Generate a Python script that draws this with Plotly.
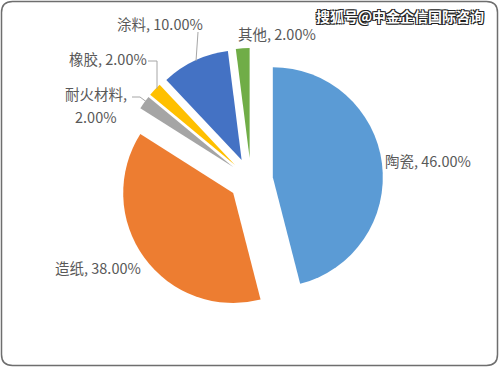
import plotly.graph_objects as go

categories = ["陶瓷", "造纸", "耐火材料", "橡胶", "涂料", "其他"]
values = [46.0, 38.0, 2.0, 2.0, 10.0, 2.0]
colors = ["#5B9BD5", "#ED7D31", "#A5A5A5", "#FFC000", "#4472C4", "#70AD47"]

W, H = 499, 367
cx, cy, R = 251, 180, 132  # outer pie box (pixels)

fig = go.Figure(go.Pie(
    labels=categories, values=values, sort=False, direction="clockwise", rotation=0,
    marker=dict(colors=colors, line=dict(width=0)),
    pull=[0.2] * len(values), textinfo="none", hoverinfo="label+percent",
    domain=dict(x=[(cx - R) / W, (cx + R) / W], y=[1 - (cy + R) / H, 1 - (cy - R) / H]),
    showlegend=False,
))

def px(x):
    return x / W

def py(y):
    return 1 - y / H

lab = {c: f"{c}, {v:.2f}%" for c, v in zip(categories, values)}
label_pos = {
    "陶瓷": (383, 160),
    "造纸": (53, 267),
    "橡胶": (67, 58),
    "涂料": (115, 24),
    "其他": (236, 33),
}
font = dict(family="Noto Sans CJK SC, Noto Sans, sans-serif", size=14.5, color="#595959")
anns = []
for c, (x, y) in label_pos.items():
    anns.append(dict(x=px(x), y=py(y), xref="paper", yref="paper", text=lab[c],
                     showarrow=False, xanchor="left", yanchor="middle", font=font))
# two-line label
c = "耐火材料"
t1, t2 = lab[c].split(" ")
anns.append(dict(x=px(96), y=py(105), xref="paper", yref="paper", text=t1, borderpad=0,
                 showarrow=False, xanchor="center", yanchor="bottom", font=font))
anns.append(dict(x=px(96), y=py(105), xref="paper", yref="paper", text=t2, borderpad=0,
                 showarrow=False, xanchor="center", yanchor="top", font=font))
# watermark
anns.append(dict(x=px(486), y=py(16), xref="paper", yref="paper", text="<b>搜狐号@中金企信国际咨询</b>",
                 showarrow=False, xanchor="right", yanchor="middle",
                 font=dict(family="Noto Sans CJK SC", size=14, color="white",
                           shadow="1px 1px 0 #222, -1px -1px 0 #222, 1px -1px 0 #222, -1px 1px 0 #222")))

def path(pts):
    return "M " + " L ".join(f"{px(x)},{py(y)}" for x, y in pts)

lc = dict(color="#A6A6A6", width=1)
shapes = [
    dict(type="path", xref="paper", yref="paper", path=path([(198, 32), (196, 61)]), line=lc),
    dict(type="path", xref="paper", yref="paper", path=path([(148, 61), (157, 61), (157, 89)]), line=lc),
    dict(type="path", xref="paper", yref="paper", path=path([(132, 97), (140, 97), (148, 103)]), line=lc),
]
# rounded border
r = 11
x0, y0, x1, y1 = 1.5, 1.5, 497.5, 365.5
border = (f"M {px(x0 + r)},{py(y0)} L {px(x1 - r)},{py(y0)} "
          f"Q {px(x1)},{py(y0)} {px(x1)},{py(y0 + r)} L {px(x1)},{py(y1 - r)} "
          f"Q {px(x1)},{py(y1)} {px(x1 - r)},{py(y1)} L {px(x0 + r)},{py(y1)} "
          f"Q {px(x0)},{py(y1)} {px(x0)},{py(y1 - r)} L {px(x0)},{py(y0 + r)} "
          f"Q {px(x0)},{py(y0)} {px(x0 + r)},{py(y0)} Z")
shapes.append(dict(type="path", xref="paper", yref="paper", path=border,
                   line=dict(color="#6E6E6E", width=1.5)))

fig.update_layout(width=W, height=H, margin=dict(l=0, r=0, t=0, b=0),
                  paper_bgcolor="white", plot_bgcolor="white",
                  annotations=anns, shapes=shapes)
fig.write_html("out.html", config={"displayModeBar": False},
               post_script="document.body.style.margin='0';document.body.style.overflow='hidden';")
